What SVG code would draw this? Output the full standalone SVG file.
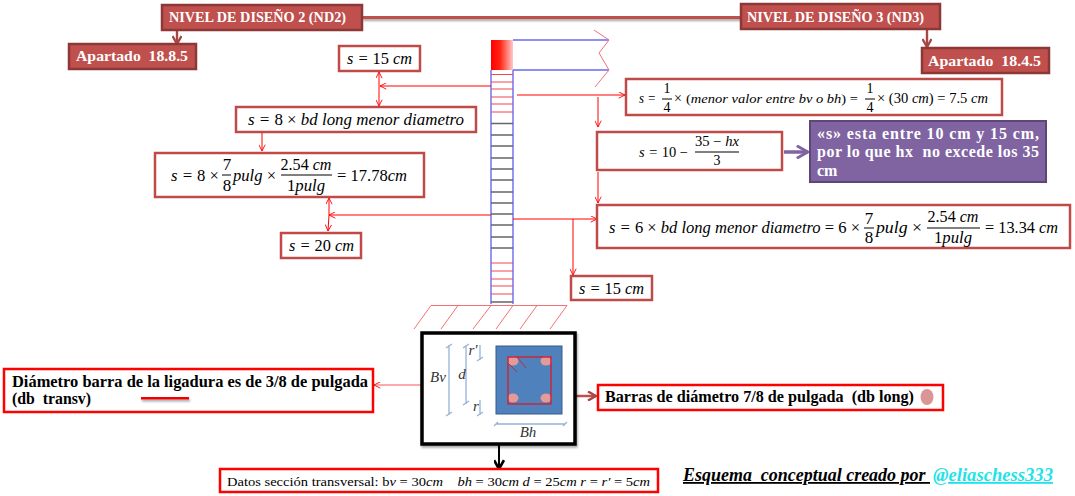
<svg xmlns="http://www.w3.org/2000/svg" width="1075" height="496" viewBox="0 0 1075 496">
<style>
text{font-family:"Liberation Serif",serif;fill:#000;white-space:pre}
.title{font-weight:bold;font-size:15px;fill:#fff}
.rb{fill:#C0504D;stroke:#8C3836;stroke-width:2.5}
.wb{fill:#fff;stroke:#BE4B48;stroke-width:2.5}
.lb{fill:#fff;stroke:#F00;stroke-width:2.5}
.m{font-style:italic;font-size:17px}
.s{font-style:italic;font-size:14px}
.n{font-style:normal}
.c{text-anchor:middle}
.fl{stroke:#000;stroke-width:1}
.red{fill:none;stroke:#F00;stroke-width:1}
.tr{stroke:#F4464E;stroke-width:1.2}
.tg{stroke:#666;stroke-width:1.3}
.rail{stroke:#6A6AF0;stroke-width:1.4;fill:none}
.hat{stroke:#F47078;stroke-width:1;fill:none}
.dim{stroke:#95B3D7;stroke-width:1.3;fill:none}
.b{font-weight:bold;font-size:16px}
.dl{font-style:italic;font-size:15px;fill:#333}
</style>
<defs>
<linearGradient id="g" x1="0" x2="1" y1="0" y2="0"><stop offset="0" stop-color="#F00"/><stop offset="0.4" stop-color="#F21"/><stop offset="1" stop-color="#FFC8C8"/></linearGradient>
<filter id="sh" filterUnits="userSpaceOnUse" x="0" y="0" width="1075" height="496"><feDropShadow dx="1" dy="2" stdDeviation="1" flood-color="#000" flood-opacity="0.35"/></filter>
<marker id="o" viewBox="0 0 10 10" refX="9.5" refY="5" markerWidth="7" markerHeight="7" markerUnits="userSpaceOnUse" orient="auto-start-reverse"><path d="M0.5 0.5L9.5 5L0.5 9.5" fill="none" stroke="#F00" stroke-width="1.3"/></marker>
<marker id="mr" viewBox="0 0 10 10" refX="9" refY="5" markerWidth="10" markerHeight="10" markerUnits="userSpaceOnUse" orient="auto"><path d="M1 0.5L9 5L1 9.5" fill="none" stroke="#A84643" stroke-width="2.4"/></marker>
<marker id="mp" viewBox="0 0 10 10" refX="9" refY="5" markerWidth="14" markerHeight="14" markerUnits="userSpaceOnUse" orient="auto"><path d="M1 0.5L9 5L1 9.5" fill="none" stroke="#8064A2" stroke-width="2"/></marker>
<marker id="mb" viewBox="0 0 10 10" refX="9" refY="5" markerWidth="11" markerHeight="11" markerUnits="userSpaceOnUse" orient="auto"><path d="M1 0.5L9 5L1 9.5" fill="none" stroke="#000" stroke-width="2.4"/></marker>
</defs>

<g id="column">
<rect x="491" y="40" width="22" height="30" fill="url(#g)"/>
<path class="rail" d="M513 40H609M513 70H609M491 70V304M513 70V304"/>
<path d="M594 30L609 40L599 53L609 70L595 87" fill="none" stroke="#F47078" stroke-width="1"/>
<path class="tr" d="M491 74.500H513M491 82H513M491 89H513M491 97H513M491 104H513M491 112H513M491 263H513M491 271H513M491 279H513M491 286H513M491 294H513"/>
<path class="tg" d="M491 123.500H513M491 135H513M491 146H513M491 158H513M491 169H513M491 180H513M491 192H513M491 203H513M491 214H513M491 225H513M491 237H513M491 248H513M491 302H513"/>
<path class="hat" d="M414 329L431 305.500H567L550 329M441 329L458 305.500M473 329L491 305.500M496 329L513 305.500M520 329L537 305.500"/>
</g>

<g id="connectors">
<path d="M362 17.500H741" stroke="#C0504D" stroke-width="3" fill="none" filter="url(#sh)"/>
<path d="M177 30V44" stroke="#A84643" stroke-width="2.400" fill="none" marker-end="url(#mr)"/>
<path d="M927 30V47" stroke="#A84643" stroke-width="2.400" fill="none" marker-end="url(#mr)"/>
<path class="red" d="M379 72V106" marker-start="url(#o)" marker-end="url(#o)"/>
<path class="red" d="M491 86H380" marker-end="url(#o)"/>
<path class="red" d="M262 132V151" marker-end="url(#o)"/>
<path class="red" d="M329 198V215L328 231" marker-start="url(#o)" marker-end="url(#o)"/>
<path class="red" d="M491 215H329" marker-end="url(#o)"/>
<path class="red" d="M517 95H625" marker-end="url(#o)"/>
<path class="red" d="M598 97V127" marker-end="url(#o)"/>
<path class="red" d="M598 172V203" marker-end="url(#o)"/>
<path class="red" d="M513 219H597" marker-end="url(#o)"/>
<path class="red" d="M573 219V275" marker-end="url(#o)"/>
<path d="M784 152H808" stroke="#8064A2" stroke-width="3.500" fill="none" marker-end="url(#mp)"/>
<path d="M505 385H374" stroke="#F4565E" stroke-width="1" fill="none" marker-end="url(#o)"/>
<path d="M551 396H596" stroke="#C0504D" stroke-width="2.500" fill="none" marker-end="url(#mr)"/>
<path d="M499 444V469" stroke="#000" stroke-width="2" fill="none" marker-end="url(#mb)"/>
</g>

<g id="nd2"><rect class="rb" x="162" y="5" width="200" height="25"/><text class="title" x="169" y="22" textLength="177" lengthAdjust="spacingAndGlyphs">NIVEL DE DISEÑO 2 (ND2)</text></g>
<g id="ap885"><rect class="rb" x="69" y="44" width="127" height="25"/><text class="title" x="76" y="61" textLength="112" lengthAdjust="spacingAndGlyphs">Apartado  18.8.5</text></g>
<g id="nd3"><rect class="rb" x="741" y="4" width="199" height="25"/><text class="title" x="747" y="22" textLength="177" lengthAdjust="spacingAndGlyphs">NIVEL DE DISEÑO 3 (ND3)</text></g>
<g id="ap845"><rect class="rb" x="922" y="48" width="127" height="25"/><text class="title" x="928" y="66" textLength="113" lengthAdjust="spacingAndGlyphs">Apartado  18.4.5</text></g>

<g id="s15a"><rect class="wb" x="339" y="46" width="81" height="25"/><text class="m" x="347" y="64" textLength="65" lengthAdjust="spacingAndGlyphs">s = <tspan class="n">15</tspan> cm</text></g>
<g id="s8bd"><rect class="wb" x="236" y="107" width="240" height="25"/><text class="m" x="248" y="125" textLength="216" lengthAdjust="spacingAndGlyphs">s = <tspan class="n">8 ×</tspan> bd long menor diametro</text></g>
<g id="s8calc"><rect class="wb" x="155" y="153" width="269" height="44"/>
<text class="m" x="171" y="181" textLength="48" lengthAdjust="spacingAndGlyphs">s = <tspan class="n">8 ×</tspan></text>
<text class="m n c" x="227" y="170">7</text><path class="fl" d="M222 175H231"/><text class="m n c" x="227" y="191">8</text>
<text class="m" x="233" y="181" textLength="43" lengthAdjust="spacingAndGlyphs">pulg <tspan class="n">×</tspan></text>
<text class="m c" x="306" y="170" textLength="51" lengthAdjust="spacingAndGlyphs"><tspan class="n">2.54</tspan> cm</text><path class="fl" d="M281 175H332"/><text class="m c" x="306" y="191" textLength="38" lengthAdjust="spacingAndGlyphs"><tspan class="n">1</tspan>pulg</text>
<text class="m" x="337" y="181" textLength="70" lengthAdjust="spacingAndGlyphs"><tspan class="n">= 17.78</tspan>cm</text></g>
<g id="s20"><rect class="wb" x="281" y="233" width="80" height="25"/><text class="m" x="289" y="251" textLength="65" lengthAdjust="spacingAndGlyphs">s = <tspan class="n">20</tspan> cm</text></g>

<g id="s14"><rect class="wb" x="626" y="79" width="376" height="36"/>
<text class="s" x="639" y="103" textLength="17" lengthAdjust="spacingAndGlyphs">s =</text>
<text class="s n c" x="667" y="93">1</text><path class="fl" d="M662 99H672"/><text class="s n c" x="667" y="112">4</text>
<text class="s n" x="674" y="103">×</text>
<text class="s" x="686" y="103" style="font-size:13px" textLength="172" lengthAdjust="spacingAndGlyphs"><tspan class="n">(</tspan>menor valor entre bv o bh<tspan class="n">) =</tspan></text>
<text class="s n c" x="870" y="93">1</text><path class="fl" d="M865 99H875"/><text class="s n c" x="870" y="112">4</text>
<text class="s" x="877" y="103" textLength="111" lengthAdjust="spacingAndGlyphs"><tspan class="n">× (30</tspan> cm<tspan class="n">) = 7.5</tspan> cm</text></g>

<g id="s10"><rect class="wb" x="597" y="132" width="185" height="38"/>
<text class="s" x="639" y="157" textLength="49" lengthAdjust="spacingAndGlyphs">s = <tspan class="n">10 −</tspan></text>
<text class="s c" x="717" y="146" textLength="44" lengthAdjust="spacingAndGlyphs"><tspan class="n">35 −</tspan> hx</text><path class="fl" d="M695 152H739"/><text class="s n c" x="717" y="165">3</text></g>
<g id="note"><rect x="810" y="121" width="236" height="61" fill="#8064A2" stroke="#5C4776" stroke-width="2"/>
<text class="b" x="817" y="139" style="fill:#fff" textLength="222">«s» esta entre 10 cm y 15 cm,</text>
<text class="b" x="817" y="157" style="fill:#fff" textLength="222">por lo que hx  no excede los 35</text>
<text class="b" x="817" y="176" style="fill:#fff">cm</text></g>

<g id="s6"><rect class="wb" x="597" y="205" width="473" height="43"/>
<text class="m" x="609" y="233" style="font-size:16px" textLength="251" lengthAdjust="spacingAndGlyphs">s = <tspan class="n">6 ×</tspan> bd long menor diametro <tspan class="n">= 6 ×</tspan></text>
<text class="m n c" x="869" y="224">7</text><path class="fl" d="M864 228H874"/><text class="m n c" x="869" y="243">8</text>
<text class="m" x="876" y="233" textLength="46" lengthAdjust="spacingAndGlyphs">pulg <tspan class="n">×</tspan></text>
<text class="m c" x="953" y="222" textLength="51" lengthAdjust="spacingAndGlyphs"><tspan class="n">2.54</tspan> cm</text><path class="fl" d="M927 228H980"/><text class="m c" x="953" y="243" textLength="38" lengthAdjust="spacingAndGlyphs"><tspan class="n">1</tspan>pulg</text>
<text class="m" x="985" y="233" textLength="73" lengthAdjust="spacingAndGlyphs"><tspan class="n">= 13.34</tspan> cm</text></g>
<g id="s15b"><rect class="wb" x="571" y="276" width="81" height="24"/><text class="m" x="579" y="294" textLength="65" lengthAdjust="spacingAndGlyphs">s = <tspan class="n">15</tspan> cm</text></g>

<g id="section">
<rect x="422" y="333" width="153" height="111" fill="#fff" stroke="#000" stroke-width="3.500" filter="url(#sh)"/>
<rect x="496" y="346" width="66" height="68" fill="#4F81BD" stroke="#385D8A" stroke-width="1"/>
<ellipse cx="513" cy="361" rx="5.500" ry="4.500" fill="#E39A98"/><ellipse cx="546" cy="361" rx="5.500" ry="4.500" fill="#E39A98"/><ellipse cx="513" cy="398" rx="5.500" ry="4.500" fill="#E39A98"/><ellipse cx="546" cy="398" rx="5.500" ry="4.500" fill="#E39A98"/>
<rect x="508" y="357" width="43" height="47" fill="none" stroke="#C8273A" stroke-width="1.500"/>
<path d="M509 364L517 372M517 357L526 368" stroke="#C8273A" stroke-width="1" fill="none"/>
<path class="dim" d="M449 345V415M446 348L452 344M446 416L452 412M466 345V404M463 348L469 344M463 405L469 401M480 345V360M477 361L483 357M480 400V415M477 416L483 412M496 424H565M494 426L498 422M563 426L567 422"/>
<text class="dl" x="438" y="382" text-anchor="middle">Bv</text>
<text class="dl" x="462" y="379" text-anchor="middle">d</text>
<text class="dl" x="473" y="355" text-anchor="middle">r′</text>
<text class="dl" x="476" y="411" text-anchor="middle">r</text>
<text class="dl" x="528" y="437" text-anchor="middle">Bh</text>
</g>

<g id="ligadura"><rect class="lb" x="4" y="369" width="369" height="43"/>
<text class="b" x="12" y="387" textLength="356" lengthAdjust="spacingAndGlyphs">Diámetro barra de la ligadura es de 3/8 de pulgada</text>
<text class="b" x="12" y="404" textLength="79" lengthAdjust="spacingAndGlyphs">(db  transv)</text>
<rect x="141" y="397" width="48" height="2.500" fill="#E00" filter="url(#sh)"/></g>
<g id="barras"><rect class="lb" x="598" y="385" width="345" height="25"/>
<text class="b" x="605" y="402" textLength="309" lengthAdjust="spacingAndGlyphs">Barras de diámetro 7/8 de pulgada  (db long)</text>
<ellipse cx="927" cy="397" rx="6.500" ry="8" fill="#D99694"/></g>
<g id="datos"><rect class="lb" x="220" y="469" width="438" height="23"/>
<text x="227" y="486" font-size="13.5" textLength="423" lengthAdjust="spacingAndGlyphs">Datos sección transversal: b<tspan font-style="italic">v</tspan> = 30<tspan font-style="italic">cm</tspan>    <tspan font-style="italic">bh</tspan> = 30<tspan font-style="italic">cm d</tspan> = 25<tspan font-style="italic">cm r</tspan> = <tspan font-style="italic">r′</tspan> = 5<tspan font-style="italic">cm</tspan></text></g>
<g id="credit">
<text x="683" y="481" font-size="18" font-weight="bold" font-style="italic" text-decoration="underline" textLength="247" lengthAdjust="spacingAndGlyphs">Esquema  conceptual creado por </text>
<text x="933" y="481" font-size="18" font-style="italic" font-weight="bold" text-decoration="underline" style="fill:#1FE3E8" textLength="120" lengthAdjust="spacingAndGlyphs">@eliaschess333</text>
</g>
</svg>
